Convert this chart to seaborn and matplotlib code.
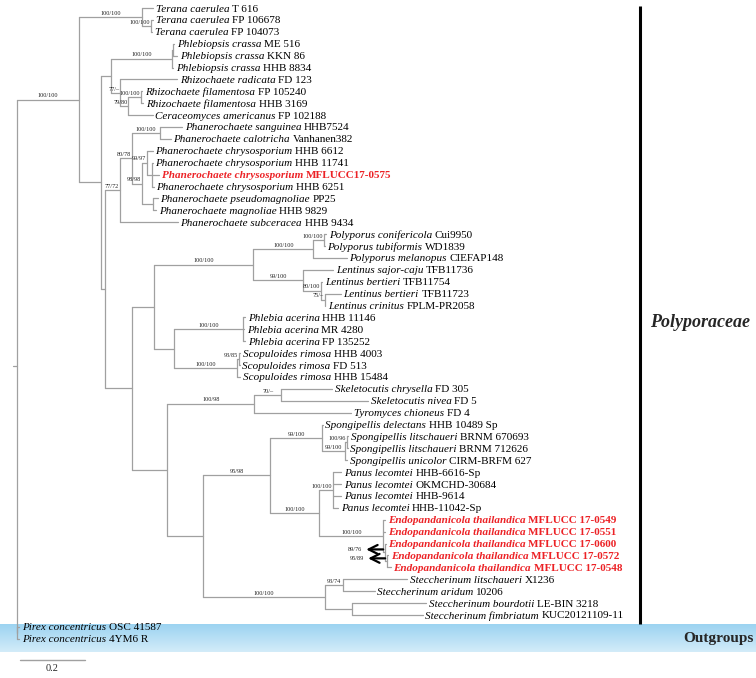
import numpy as np
import pandas as pd
import seaborn as sns
import matplotlib.pyplot as plt
from matplotlib.colors import LinearSegmentedColormap

# ---------------------------------------------------------
# data: taxa top to bottom (tip number = position in list)
# ---------------------------------------------------------
species = [
    "Terana caerulea", "Terana caerulea", "Terana caerulea",
    "Phlebiopsis crassa", "Phlebiopsis crassa", "Phlebiopsis crassa",
    "Rhizochaete radicata", "Rhizochaete filamentosa", "Rhizochaete filamentosa",
    "Ceraceomyces americanus",
    "Phanerochaete sanguinea", "Phanerochaete calotricha",
    "Phanerochaete chrysosporium", "Phanerochaete chrysosporium",
    "Phanerochaete chrysosporium", "Phanerochaete chrysosporium",
    "Phanerochaete pseudomagnoliae", "Phanerochaete magnoliae",
    "Phanerochaete subceracea",
    "Polyporus conifericola", "Polyporus tubiformis", "Polyporus melanopus",
    "Lentinus sajor-caju", "Lentinus bertieri", "Lentinus bertieri", "Lentinus crinitus",
    "Phlebia acerina", "Phlebia acerina", "Phlebia acerina",
    "Scopuloides rimosa", "Scopuloides rimosa", "Scopuloides rimosa",
    "Skeletocutis chrysella", "Skeletocutis nivea", "Tyromyces chioneus",
    "Spongipellis delectans", "Spongipellis litschaueri", "Spongipellis litschaueri",
    "Spongipellis unicolor",
    "Panus lecomtei", "Panus lecomtei", "Panus lecomtei", "Panus lecomtei",
    "Endopandanicola thailandica", "Endopandanicola thailandica",
    "Endopandanicola thailandica", "Endopandanicola thailandica",
    "Endopandanicola thailandica",
    "Steccherinum litschaueri", "Steccherinum aridum",
    "Steccherinum bourdotii", "Steccherinum fimbriatum",
    "Pirex concentricus", "Pirex concentricus",
]
strains = [
    "T 616", "FP 106678", "FP 104073", "ME 516", "KKN 86", "HHB 8834",
    "FD 123", "FP 105240", "HHB 3169", "FP 102188", "HHB7524", "Vanhanen382",
    "HHB 6612", "HHB 11741", "MFLUCC17-0575", "HHB 6251", "PP25", "HHB 9829",
    "HHB 9434", "Cui9950", "WD1839", "CIEFAP148", "TFB11736", "TFB11754",
    "TFB11723", "FPLM-PR2058", "HHB 11146", "MR 4280", "FP 135252",
    "HHB 4003", "FD 513", "HHB 15484", "FD 305", "FD 5", "FD 4",
    "HHB 10489 Sp", "BRNM 670693", "BRNM 712626", "CIRM-BRFM 627",
    "HHB-6616-Sp", "OKMCHD-30684", "HHB-9614", "HHB-11042-Sp",
    "MFLUCC 17-0549", "MFLUCC 17-0551", "MFLUCC 17-0600", "MFLUCC 17-0572",
    "MFLUCC 17-0548", "X1236", "10206", "LE-BIN 3218", "KUC20121109-11",
    "OSC 41587", "4YM6 R",
]
new_isolates = [14, 43, 44, 45, 46, 47]

# topology, branch lengths and ML/MP support
newick = """
(((0:0.034,(1:0.006,2:0.003)100/100:0.028)100/100:0.194,
 ((((3:0.003,4:0.012):0.003,5:0.003)100/100:0.188,
   (6:0.175,((7:0.006,8:0.009)100/100:0.037,9:0.074)79/80:0.025)77/–:0.028):0.031,
  ((((10:0.068,11:0.034)100/100:0.086,
     ((12:0.018,(13:0.003,14:0.022,15:0.006):0.015)99/97:0.015,
      (16:0.015,17:0.009):0.034)98/98:0.031)80/78:0.037,
    18:0.178)77/72:0.046,
   (((((19:0.006,20:0.001)100/100:0.034,21:0.102)100/100:0.185,
      (22:0.092,(23:0.003,(24:0.049,25:0.001)75/–:0.012)80/100:0.055)99/100:0.154)100/100:0.305,
     ((26:0.006,27:0.003,28:0.006)100/100:0.212,
      ((29:0.003,30:0.001)93/85:0.006,31:0.009)100/100:0.194):0.062):0.068,
    (((32:0.157,33:0.268)70/–:0.083,34:0.298)100/98:0.268,
     (((35:0.001,((36:0.003,37:0.001)100/96:0.006,38:0.006)99/100:0.071)99/100:0.160,
       ((39:0.025,40:0.025,41:0.025,42:0.015)100/100:0.043,
        (43:0.006,44:0.006,(45:0.001,(46:0.003,47:0.012)95/89:0.006)89/76:0.006)100/100:0.197)100/100:0.151)95/98:0.206,
      ((48:0.197,49:0.098)93/74:0.055,(50:0.228,51:0.218):0.083)100/100:0.375):0.111):0.108):0.083):0.012):0.068)100/100:0.191,
 (52:0.006,53:0.006):0.001);
"""
arrow_nodes = ["89/76", "95/89"]
scale_len = 0.2

# ---------------------------------------------------------
# tree parsing / layout
# ---------------------------------------------------------
s = "".join(newick.split())
pos = 0


def read_node():
    global pos
    kids = []
    if s[pos] == "(":
        pos += 1
        kids.append(read_node())
        while s[pos] == ",":
            pos += 1
            kids.append(read_node())
        pos += 1
    start = pos
    while s[pos] not in ":,);":
        pos += 1
    label = s[start:pos]
    bl = 0.0
    if s[pos] == ":":
        pos += 1
        start = pos
        while s[pos] not in ",);":
            pos += 1
        bl = float(s[start:pos])
    return {"kids": kids, "label": label, "bl": bl}


root = read_node()


def layout(n, x0):
    n["x"] = x0 + n["bl"]
    n["px"] = x0
    if n["kids"]:
        for k in n["kids"]:
            layout(k, n["x"])
        n["y"] = (n["kids"][0]["y"] + n["kids"][-1]["y"]) / 2
    else:
        n["y"] = int(n["label"])


layout(root, 0.0)

nodes = []


def walk(n):
    nodes.append(n)
    for k in n["kids"]:
        walk(k)


walk(root)

# pixel -> data conversion (x: branch length units, y: tip rows)
PX = 1 / 325
PY = 1 / 11.9

rows = []
seg = 0
for n in nodes:
    if n is root:
        rows += [(seg, n["x"] - 4 * PX, n["y"]), (seg, n["x"], n["y"])]
    else:
        rows += [(seg, n["px"], n["y"]), (seg, n["x"], n["y"])]
    seg += 1
    if n["kids"]:
        rows += [(seg, n["x"], n["kids"][0]["y"]), (seg, n["x"], n["kids"][-1]["y"])]
        seg += 1
seg_df = pd.DataFrame(rows, columns=["seg", "x", "y"])

# ---------------------------------------------------------
# plot
# ---------------------------------------------------------
sns.set_theme(style="white")
plt.rcParams["font.family"] = ["Liberation Serif", "DejaVu Serif"]

fig = plt.figure(figsize=(7.56, 6.78), dpi=100)
ax = fig.add_axes([0, 0, 1, 1])

xmin, xmax = -17 * PX, (756 - 17) * PX
ymin, ymax = -8 * PY, (678 - 8) * PY

# outgroup band
band_top, band_bot = (624 - 8) * PY, (652 - 8) * PY
cmap = LinearSegmentedColormap.from_list("band", ["#9cd3f1", "#d3ecf9"])
ax.imshow(np.linspace(0, 1, 60).reshape(-1, 1), cmap=cmap, aspect="auto",
          extent=(xmin, xmax, band_bot, band_top), zorder=0, interpolation="bilinear")

branch_col = "#a0a0a0"
sns.lineplot(data=seg_df, x="x", y="y", units="seg", estimator=None, sort=False,
             color=branch_col, lw=0.9, ax=ax, legend=False, zorder=2)

red = "#ec2226"
for n in nodes:
    if n["kids"]:
        continue
    i = int(n["label"])
    hl = i in new_isolates
    col = red if hl else "black"
    wt = "bold" if hl else "normal"
    t = ax.text(n["x"] + 2.5 * PX, n["y"], species[i], fontsize=8, style="italic",
                weight=wt, color=col, va="center_baseline", ha="left", zorder=3)
    ax.annotate(strains[i], xy=(1, n["y"]), xycoords=(t, "data"),
                xytext=(2.0, 0), textcoords="offset points", fontsize=8,
                weight=wt, color=col, va="center_baseline", ha="left", zorder=3)

# support values
for n in nodes:
    lab = n["label"]
    if not n["kids"] or not lab or n is root:
        continue
    if lab in arrow_nodes:
        ya = n["y"] - 3 * PY
        ax.annotate("", xy=(n["x"] - 19 * PX, ya), xytext=(n["x"] - 2 * PX, ya),
                    arrowprops=dict(arrowstyle="->", color="black", lw=1.6,
                                    mutation_scale=16, shrinkA=0, shrinkB=0))
        ax.text(n["x"] - 23 * PX, ya, lab, fontsize=4.5, ha="right",
                va="center", color="#222222")
        continue
    w = 2.9 * len(lab) * PX
    if n["bl"] >= w + 3 * PX:
        xl, ha = n["px"] + n["bl"] / 2, "center"
    else:
        xl, ha = n["x"] - 1 * PX, "right"
    ax.text(xl, n["y"] - 1.2 * PY, lab, fontsize=4.5, ha=ha, va="bottom",
            color="#222222")

# clade bar + labels
bar_x = (640 - 17) * PX
ax.plot([bar_x, bar_x], [-0.2, band_top], color="black", lw=2.2, solid_capstyle="butt")
ax.text(bar_x + 10 * PX, 26.4, "Polyporaceae", fontsize=13, style="italic",
        weight="bold", va="center", ha="left")
ax.text(bar_x + 43 * PX, (band_top + band_bot) / 2, "Outgroups", fontsize=11,
        weight="bold", va="center", ha="left")

# scale bar
sb_y = (660 - 8) * PY
ax.plot([3 * PX, 3 * PX + scale_len], [sb_y, sb_y], color=branch_col, lw=1.0)
ax.text(3 * PX + scale_len / 2, sb_y + 0.35, f"{scale_len:.1f}", fontsize=7.5,
        ha="center", va="top")

ax.set_xlim(xmin, xmax)
ax.set_ylim(ymax, ymin)
ax.axis("off")

fig.savefig("out.png", dpi=100)
